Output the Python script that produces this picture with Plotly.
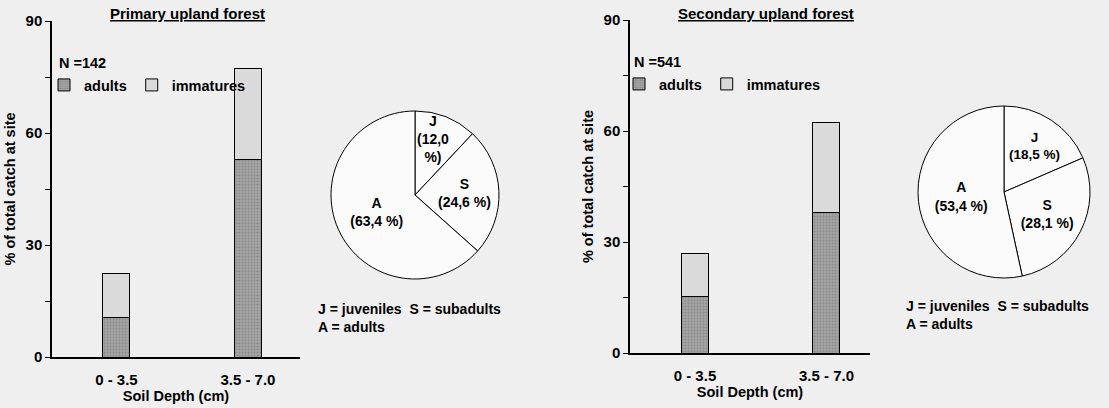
import plotly.graph_objects as go

W, H = 1109, 408

# ---- data ----
categories = ["0 - 3.5", "3.5 - 7.0"]
primary_adults = [10.7, 53.0]
primary_immatures = [11.8, 24.4]
secondary_adults = [15.3, 37.9]
secondary_immatures = [11.6, 24.5]

stage_labels = ["J", "S", "A"]
primary_stage = [12.0, 24.6, 63.4]
secondary_stage = [18.5, 28.1, 53.4]
primary_stage_text = ["J<br>(12,0<br>%)", "S<br>(24,6 %)", "A<br>(63,4 %)"]
secondary_stage_text = ["J<br>(18,5 %)", "S<br>(28,1 %)", "A<br>(53,4 %)"]

titles = ["Primary upland forest", "Secondary upland forest"]
sample_sizes = ["N =142", "N =541"]
y_ticks = [0, 30, 60, 90]
stage_key = "J = juveniles&nbsp; S = subadults<br>A = adults"

ADULT = "#a4a4a4"
IMM = "#dadada"
BG = "#efefef"
FONT = "Liberation Sans"


def px_x(a, b):
    return [a / W, b / W]


def px_y(top, bottom):
    return [(H - bottom) / H, (H - top) / H]


def f(size):
    return dict(family=FONT, size=size, color="black", weight="bold")


adult_marker = dict(color=ADULT, line=dict(color="black", width=1),
                    pattern=dict(shape=".", fgcolor="#6e6e6e", bgcolor=ADULT, size=3, solidity=0.35))
imm_marker = dict(color=IMM, line=dict(color="black", width=1))

fig = go.Figure()

fig.add_trace(go.Bar(x=categories, y=primary_adults, name="adults", marker=adult_marker,
                     width=0.205, xaxis="x", yaxis="y", legend="legend"))
fig.add_trace(go.Bar(x=categories, y=primary_immatures, name="immatures", marker=imm_marker,
                     width=0.205, xaxis="x", yaxis="y", legend="legend"))
fig.add_trace(go.Bar(x=categories, y=secondary_adults, name="adults", marker=adult_marker,
                     width=0.205, xaxis="x2", yaxis="y2", legend="legend2"))
fig.add_trace(go.Bar(x=categories, y=secondary_immatures, name="immatures", marker=imm_marker,
                     width=0.205, xaxis="x2", yaxis="y2", legend="legend2"))

pie_common = dict(sort=False, direction="clockwise", rotation=0, showlegend=False,
                  marker=dict(colors=["#fbfbfb"] * 3, line=dict(color="black", width=1)),
                  textinfo="text", insidetextorientation="horizontal",
                  textfont=f(14), hoverinfo="skip")
# the narrow J slice of the left pie gets its label as an annotation (plotly would shrink it)
fig.add_trace(go.Pie(labels=stage_labels, values=primary_stage, text=primary_stage_text,
                     textposition=["none", "inside", "inside"],
                     domain=dict(x=px_x(331, 499), y=px_y(111, 279)), **pie_common))
fig.add_trace(go.Pie(labels=stage_labels, values=secondary_stage, text=secondary_stage_text,
                     textposition="inside",
                     domain=dict(x=px_x(918, 1090), y=px_y(106, 278)), **pie_common))


def yax(domain, anchor):
    return dict(domain=domain, anchor=anchor, range=[0, 90], tickvals=y_ticks, ticks="outside", ticklen=5,
                tickwidth=1.2, tickcolor="black", showline=True, linecolor="black", linewidth=1.5,
                showgrid=False, zeroline=False, automargin=False,
                minor=dict(dtick=15, ticks="outside", ticklen=5, tickcolor="black"),
                tickfont=f(15),
                title=dict(text="% of total catch at site", standoff=6, font=f(14.5)))


def xax(domain, anchor, rng):
    return dict(domain=domain, anchor=anchor, range=rng, showline=True, linecolor="black", linewidth=1.5,
                showgrid=False, zeroline=False, ticks="", ticklabelstandoff=8, automargin=False,
                tickfont=f(15),
                title=dict(text="Soil Depth (cm)", standoff=3, font=f(14.5)))


legend_common = dict(orientation="h", xanchor="left", yanchor="top", bgcolor="rgba(0,0,0,0)",
                     font=f(14.5), itemwidth=30, traceorder="normal", tracegroupgap=0)

fig.update_layout(
    width=W, height=H, margin=dict(l=0, r=0, t=0, b=0, autoexpand=False),
    paper_bgcolor=BG, plot_bgcolor=BG, barmode="stack",
    font=dict(family=FONT, color="black"),
    xaxis=xax(px_x(52, 300), "y", [-0.49, 1.396]),
    yaxis=yax(px_y(21, 357), "x"),
    xaxis2=xax(px_x(630, 870), "y2", [-0.494, 1.331]),
    yaxis2=yax(px_y(20, 353), "x2"),
    legend=dict(x=44 / W, y=(H - 69) / H, **legend_common),
    legend2=dict(x=619 / W, y=(H - 68) / H, **legend_common),
    showlegend=True,
)

fig.add_annotation(text="<u>" + titles[0] + "</u>", x=187 / W, y=(H - 14) / H, xref="paper", yref="paper",
                   showarrow=False, font=f(15), xanchor="center", yanchor="middle")
fig.add_annotation(text="<u>" + titles[1] + "</u>", x=766 / W, y=(H - 13) / H, xref="paper", yref="paper",
                   showarrow=False, font=f(15), xanchor="center", yanchor="middle")

fig.add_annotation(text=sample_sizes[0], x=57 / W, y=(H - 63) / H, xref="paper", yref="paper",
                   showarrow=False, font=f(14.5), xanchor="left", yanchor="middle")
fig.add_annotation(text=sample_sizes[1], x=632 / W, y=(H - 62) / H, xref="paper", yref="paper",
                   showarrow=False, font=f(14.5), xanchor="left", yanchor="middle")

fig.add_annotation(text=primary_stage_text[0], x=433 / W, y=(H - 139) / H, xref="paper", yref="paper",
                   showarrow=False, font=f(14), xanchor="center", yanchor="middle")

fig.add_annotation(text=stage_key, x=316 / W, y=(H - 299) / H,
                   xref="paper", yref="paper", showarrow=False, font=f(14), xanchor="left", yanchor="top",
                   align="left")
fig.add_annotation(text=stage_key, x=904 / W, y=(H - 296) / H,
                   xref="paper", yref="paper", showarrow=False, font=f(14), xanchor="left", yanchor="top",
                   align="left")

fig.write_html("out.html", config={"displayModeBar": False},
               post_script="document.body.style.margin='0';document.body.style.overflow='hidden';")
